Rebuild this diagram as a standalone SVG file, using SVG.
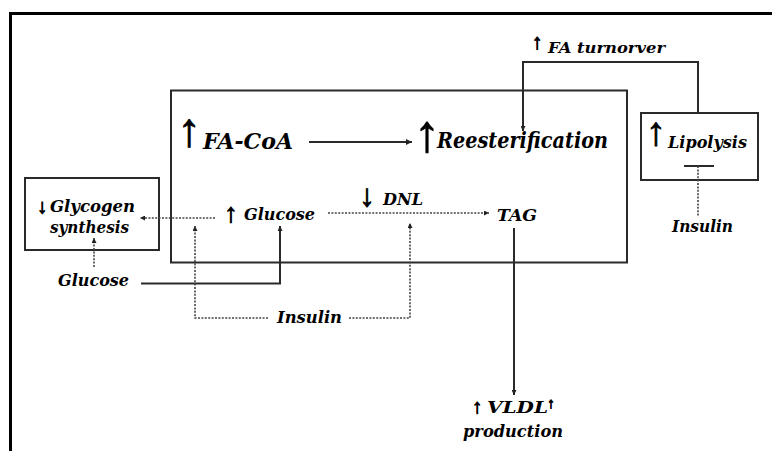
<svg xmlns="http://www.w3.org/2000/svg" width="772" height="451" viewBox="0 0 772 451">
<defs>
<style>
.t{font-family:"DejaVu Serif","Liberation Serif",serif;font-weight:bold;font-style:italic;fill:#000;}
.a{font-family:"Liberation Serif","DejaVu Serif",serif;font-weight:bold;font-style:normal;fill:#000;stroke:#000;stroke-width:0.9;text-anchor:middle;}
.box{fill:none;stroke:#2a2a2a;stroke-width:2;}
.solid{fill:none;stroke:#2a2a2a;stroke-width:2;}
.dot{fill:none;stroke:#444;stroke-width:1.6;stroke-dasharray:2 1.4;}
</style>
<marker id="ah" viewBox="0 0 10 10" refX="10" refY="5" markerWidth="7" markerHeight="6" markerUnits="userSpaceOnUse" orient="auto">
<path d="M0,0 L10,5 L0,10 z" fill="#222"/>
</marker>
<marker id="ahs" viewBox="0 0 10 10" refX="10" refY="5" markerWidth="6" markerHeight="5" markerUnits="userSpaceOnUse" orient="auto">
<path d="M0,0 L10,5 L0,10 z" fill="#222"/>
</marker>
</defs>
<rect width="772" height="451" fill="#fff"/>
<path d="M10.5,451 V13.5 H772" fill="none" stroke="#000" stroke-width="3"/>

<g id="liver">
<rect class="box" x="171" y="90.5" width="456" height="172"/>
</g>

<g id="fa-coa">
<text class="a" x="189" y="146" font-size="47" stroke-width="0.5">↑</text>
<text class="t" x="203" y="149" font-size="23" textLength="90" lengthAdjust="spacingAndGlyphs">FA-CoA</text>
</g>

<g id="reesterification">
<text class="a" x="427" y="151" font-size="52" stroke-width="0.5">↑</text>
<text class="t" x="437" y="148" font-size="23" textLength="171" lengthAdjust="spacingAndGlyphs">Reesterification</text>
</g>

<g id="fa-turnover">
<text class="a" x="537" y="49" font-size="21">↑</text>
<text class="t" x="548" y="53" font-size="15" textLength="117" lengthAdjust="spacingAndGlyphs">FA turnorver</text>
</g>

<g id="lipolysis">
<rect class="box" x="641" y="113" width="117" height="67"/>
<text class="a" x="656" y="145" font-size="40" stroke-width="0.5">↑</text>
<text class="t" x="668" y="148" font-size="17" textLength="79" lengthAdjust="spacingAndGlyphs">Lipolysis</text>
</g>

<g id="insulin-right">
<text class="t" x="672" y="232" font-size="17" textLength="61" lengthAdjust="spacingAndGlyphs">Insulin</text>
</g>

<g id="glycogen">
<rect class="box" x="25" y="178" width="134" height="72"/>
<text class="a" x="42" y="213" font-size="20">↓</text>
<text class="t" x="50" y="212" font-size="17" textLength="85" lengthAdjust="spacingAndGlyphs">Glycogen</text>
<text class="t" x="50" y="233" font-size="17" textLength="79" lengthAdjust="spacingAndGlyphs">synthesis</text>
</g>

<g id="glucose-liver">
<text class="a" x="231" y="222" font-size="27">↑</text>
<text class="t" x="244" y="220" font-size="17" textLength="71" lengthAdjust="spacingAndGlyphs">Glucose</text>
</g>

<g id="dnl">
<text class="a" x="367" y="206" font-size="31">↓</text>
<text class="t" x="383" y="205" font-size="17" textLength="40" lengthAdjust="spacingAndGlyphs">DNL</text>
</g>

<g id="tag">
<text class="t" x="497" y="221" font-size="17" textLength="40" lengthAdjust="spacingAndGlyphs">TAG</text>
</g>

<g id="glucose-blood">
<text class="t" x="58" y="286" font-size="17" textLength="71" lengthAdjust="spacingAndGlyphs">Glucose</text>
</g>

<g id="insulin-bottom">
<text class="t" x="277" y="323" font-size="17" textLength="65" lengthAdjust="spacingAndGlyphs">Insulin</text>
</g>

<g id="vldl">
<text class="a" x="477" y="413" font-size="20">↑</text>
<text class="t" x="487" y="413" font-size="17" textLength="61" lengthAdjust="spacingAndGlyphs">VLDL</text>
<text class="a" x="551" y="408" font-size="15">↑</text>
<text class="t" x="463" y="437" font-size="17" textLength="100" lengthAdjust="spacingAndGlyphs">production</text>
</g>

<g id="connectors">
<line class="solid" x1="309" y1="142" x2="412" y2="142" marker-end="url(#ah)"/>
<polyline class="solid" points="698,113 698,62 523,62 523,131" marker-end="url(#ahs)"/>
<line class="solid" x1="514" y1="228" x2="514" y2="395" marker-end="url(#ahs)"/>
<polyline class="solid" points="141,283.5 280,283.5 280,226" marker-end="url(#ahs)"/>
<line class="dot" x1="215" y1="218" x2="140" y2="218" marker-end="url(#ahs)"/>
<line class="dot" x1="94" y1="267" x2="94" y2="238" marker-end="url(#ahs)"/>
<line class="dot" x1="328" y1="213" x2="489" y2="213" marker-end="url(#ahs)"/>
<polyline class="dot" points="268,318 195,318 195,226" marker-end="url(#ahs)"/>
<polyline class="dot" points="349,318 410,318 410,223" marker-end="url(#ahs)"/>
<line class="solid" x1="684" y1="166" x2="714" y2="166" stroke="#555"/>
<line class="dot" x1="698" y1="166" x2="698" y2="217"/>
</g>
</svg>
